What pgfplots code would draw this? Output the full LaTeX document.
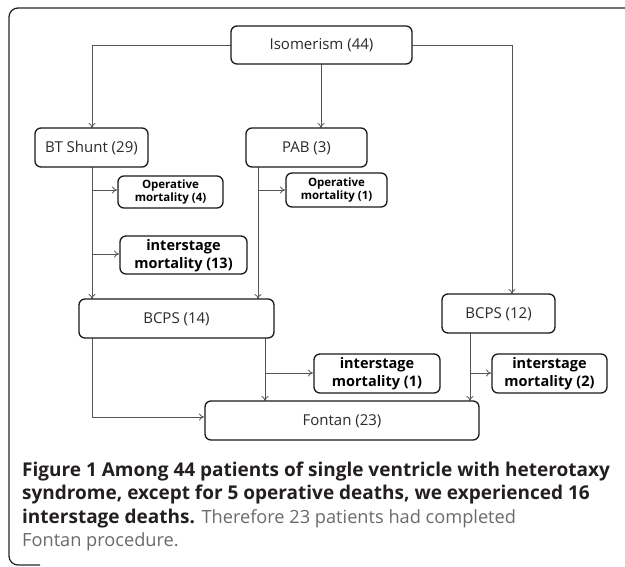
\documentclass[border=0pt]{standalone}
\usepackage{pgfplots}
\pgfplotsset{compat=1.18}
\usepackage{fontspec}
\setmainfont{Open Sans}
\usetikzlibrary{arrows.meta}
\definecolor{boxtxt}{HTML}{2A2A2A}
\definecolor{conn}{HTML}{555555}
\definecolor{captxt}{HTML}{231F20}
\definecolor{capgray}{HTML}{6A6A6A}
\begin{document}
\begin{tikzpicture}
\begin{axis}[at={(0,0)}, anchor=south west, scale only axis,
  width=625pt, height=566pt, xmin=0, xmax=625, ymin=0, ymax=566,
  y dir=reverse, hide axis, clip=false]
\coordinate (bl) at (axis cs:0,566);
\coordinate (tr) at (axis cs:625,0);
% outer frame (right side cut off)
\draw[line width=1.3pt, black!85, rounded corners=9pt] (axis cs:626,8) -- (axis cs:9,8) -- (axis cs:9,565) -- (axis cs:40,565);
% connectors
\pgfplotsset{every axis plot/.append style={line width=0.8pt, color=conn}}
\addplot[-{To[length=5pt,width=7pt]}] coordinates {(231,45) (92,45) (92,128)};
\addplot[-{To[length=5pt,width=7pt]}] coordinates {(321,64) (321,128)};
\addplot[-{To[length=5pt,width=7pt]}] coordinates {(412,45) (512,45) (512,294)};
\addplot[-{To[length=5pt,width=7pt]}] coordinates {(92,167) (92,299)};
\addplot[-{To[length=5pt,width=7pt]}] coordinates {(92,190) (117,190)};
\addplot[-{To[length=5pt,width=7pt]}] coordinates {(92,254) (119,254)};
\addplot[-{To[length=5pt,width=7pt]}] coordinates {(258,167) (258,299)};
\addplot[-{To[length=5pt,width=7pt]}] coordinates {(258,190) (285,190)};
\addplot[-{To[length=5pt,width=7pt]}] coordinates {(92,338) (92,417) (204,417)};
\addplot[-{To[length=5pt,width=7pt]}] coordinates {(265,338) (265,401)};
\addplot[-{To[length=5pt,width=7pt]}] coordinates {(265,373) (313,373)};
\addplot[-{To[length=5pt,width=7pt]}] coordinates {(470,333) (470,401)};
\addplot[-{To[length=5pt,width=7pt]}] coordinates {(470,373) (491,373)};
% boxes
\tikzset{bx/.style={draw=black!90, line width=1.3pt, rounded corners=6pt, fill=white}}
\draw[bx] (axis cs:231,26) rectangle (axis cs:412,64);
\draw[bx] (axis cs:35,128) rectangle (axis cs:148,167);
\draw[bx] (axis cs:246,128) rectangle (axis cs:367,167);
\draw[bx] (axis cs:118,176) rectangle (axis cs:223,208);
\draw[bx] (axis cs:286,173) rectangle (axis cs:387,207);
\draw[bx] (axis cs:120,236) rectangle (axis cs:247,274);
\draw[bx] (axis cs:79,299) rectangle (axis cs:274,338);
\draw[bx] (axis cs:442,294) rectangle (axis cs:555,333);
\draw[bx] (axis cs:314,354) rectangle (axis cs:440,393);
\draw[bx] (axis cs:492,354) rectangle (axis cs:607,393);
\draw[bx] (axis cs:205,401) rectangle (axis cs:479,440);
% box texts
\tikzset{rt/.style={text=boxtxt, font=\fontsize{15}{18}\selectfont, inner sep=0pt},
  sb/.style={text=black, align=center, font=\bfseries\fontsize{11.5}{13.5}\selectfont, inner sep=0pt},
  lb/.style={text=black, align=center, font=\bfseries\fontsize{14.5}{18}\selectfont, inner sep=0pt}}
\node[rt] at (axis cs:321.5,45) {Isomerism (44)};
\node[rt] at (axis cs:91.5,148) {BT Shunt (29)};
\node[rt] at (axis cs:306.5,148) {PAB (3)};
\node[rt] at (axis cs:176.5,319) {BCPS (14)};
\node[rt] at (axis cs:498.5,314) {BCPS (12)};
\node[rt] at (axis cs:342,421) {Fontan (23)};
\node[sb] at (axis cs:170.5,192) {Operative\\mortality (4)};
\node[sb] at (axis cs:336.5,190) {Operative\\mortality (1)};
\node[lb] at (axis cs:183.5,255.5) {interstage\\mortality (13)};
\node[lb] at (axis cs:377,373.5) {interstage\\mortality (1)};
\node[lb] at (axis cs:549.5,373.5) {interstage\\mortality (2)};
% caption
\tikzset{captn/.style={anchor=base west, inner sep=0pt, font=\fontsize{19}{23}\selectfont}}
\node[captn, text=captxt] at (axis cs:22,476) {\bfseries Figure 1 Among 44 patients of single ventricle with heterotaxy};
\node[captn, text=captxt] at (axis cs:22,499.5) {\bfseries syndrome, except for 5 operative deaths, we experienced 16};
\node[captn] at (axis cs:22,523) {\textcolor{captxt}{\bfseries interstage deaths.} \textcolor{capgray}{\fontsize{18.2}{23}\selectfont Therefore 23 patients had completed}};
\node[captn, text=capgray, font=\fontsize{18.2}{23}\selectfont] at (axis cs:22,546) {Fontan procedure.};
\end{axis}
\pgfresetboundingbox
\path (bl) rectangle (tr);
\end{tikzpicture}
\end{document}
